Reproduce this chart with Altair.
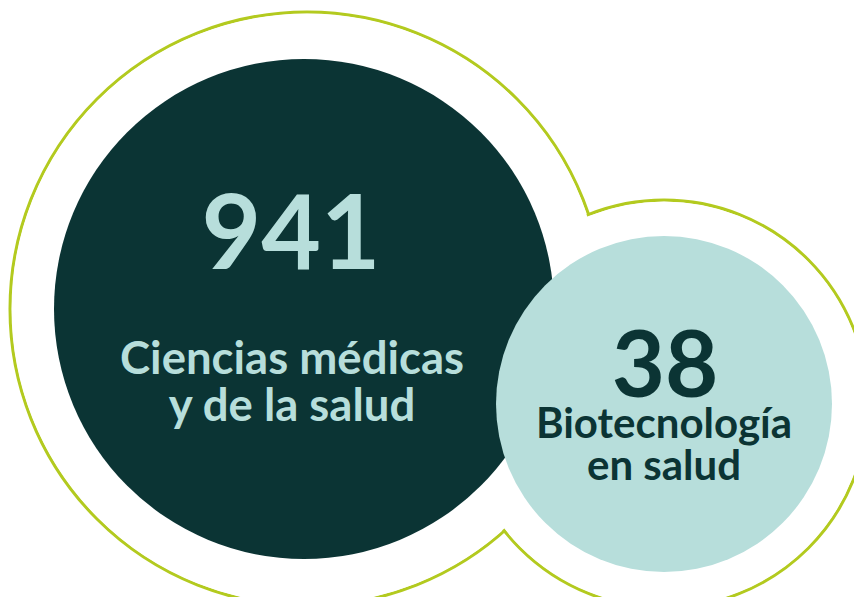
import altair as alt
import pandas as pd

# ---- data ----
values = [941, 38]
labels_line1 = ["Ciencias médicas", "Biotecnología"]
labels_line2 = ["y de la salud", "en salud"]

# ---- layout (page pixel coordinates) ----
W, H = 862, 605
M = 8
centers = [(304, 309), (664, 404)]
radii = [250, 168]
outline_centers = [(307, 309), (664, 404)]
outline_radii = [297, 204]
fills = ["#0B3434", "#B7DEDB"]
text_colors = ["#B7DEDB", "#0B3434"]
green = "#B3CA1F"
stroke_w = 3

num_pos = [(291, 269), (665, 397)]
num_size = [103, 92]
l1_pos = [(292, 374), (664, 438)]
l2_pos = [(292, 421), (664, 480)]
lab_size = [45.5, 42]

PW, PH = W - 2 * M, H - 2 * M
xs = alt.Scale(domain=[M, M + PW], range=[0, PW], nice=False, zero=False)
ys = alt.Scale(domain=[M, M + PH], reverse=True, nice=False, zero=False)
X = lambda: alt.X("x:Q", scale=xs, axis=None)
Y = lambda: alt.Y("y:Q", scale=ys, axis=None)

outline_df = pd.DataFrame({
    "x": [c[0] for c in outline_centers],
    "y": [c[1] for c in outline_centers],
    "size": [(2 * r) ** 2 for r in outline_radii],
    "size_in": [(2 * (r - stroke_w / 2 - 0.3)) ** 2 for r in outline_radii],
})

outline_stroke = alt.Chart(outline_df).mark_circle(
    fill="white", stroke=green, strokeWidth=stroke_w, opacity=1
).encode(x=X(), y=Y(), size=alt.Size("size:Q", scale=None, legend=None))

outline_cover = alt.Chart(outline_df).mark_circle(
    fill="white", opacity=1, strokeWidth=0
).encode(x=X(), y=Y(), size=alt.Size("size_in:Q", scale=None, legend=None))

layers = [outline_stroke, outline_cover]

for i in range(2):
    cdf = pd.DataFrame({"x": [centers[i][0]], "y": [centers[i][1]],
                        "size": [(2 * radii[i]) ** 2], "value": [values[i]]})
    layers.append(alt.Chart(cdf).mark_circle(fill=fills[i], opacity=1, strokeWidth=0).encode(
        x=X(), y=Y(), size=alt.Size("size:Q", scale=None, legend=None)))

for i in range(2):
    ndf = pd.DataFrame({"x": [num_pos[i][0]], "y": [num_pos[i][1]], "t": [str(values[i])]})
    layers.append(alt.Chart(ndf).mark_text(
        font="Lato", fontWeight="bold", fontSize=num_size[i], color=text_colors[i],
        align="center", baseline="alphabetic").encode(x=X(), y=Y(), text="t:N"))
    tdf = pd.DataFrame({"x": [l1_pos[i][0], l2_pos[i][0]], "y": [l1_pos[i][1], l2_pos[i][1]],
                        "t": [labels_line1[i], labels_line2[i]]})
    layers.append(alt.Chart(tdf).mark_text(
        font="Lato", fontWeight="bold", fontSize=lab_size[i], color=text_colors[i],
        align="center", baseline="alphabetic").encode(x=X(), y=Y(), text="t:N"))

chart = alt.layer(*layers).properties(
    width=PW, height=PH, padding=0, autosize=alt.AutoSizeParams(type="none"),
    background="white"
).configure_view(stroke=None)

chart.save("out.html", embed_options={"renderer": "svg", "actions": False})
